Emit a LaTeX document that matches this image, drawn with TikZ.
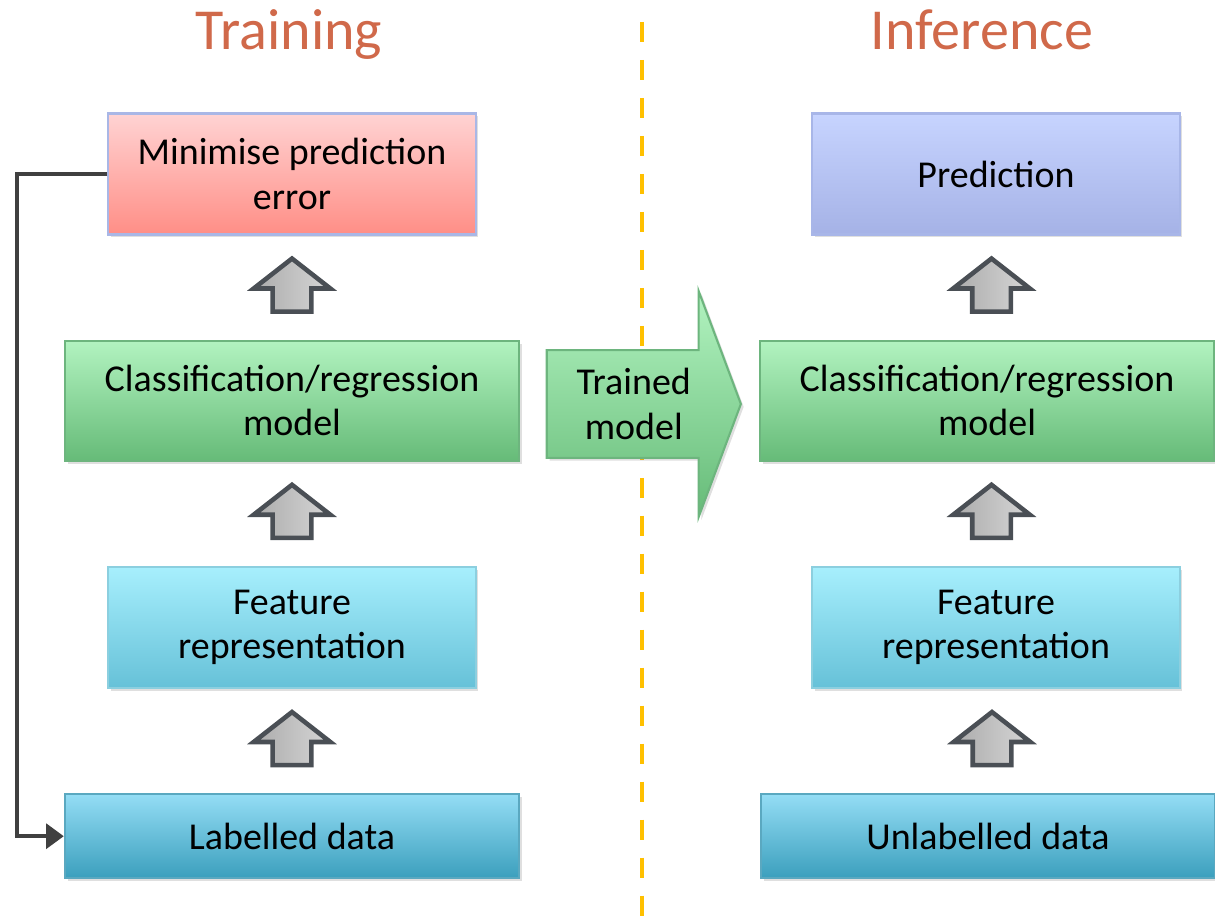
\documentclass[tikz,border=0pt]{standalone}
\usepackage{fontspec}
\setmainfont{Carlito}
\usepackage{xcolor}
\usetikzlibrary{shapes.arrows, arrows.meta, positioning, calc, shadows}

\definecolor{titlecol}{HTML}{D0694A}
\definecolor{errtop}{HTML}{FFD3D3}
\definecolor{errbot}{HTML}{FF8E86}
\definecolor{errline}{HTML}{A9B7E6}
\definecolor{grntop}{HTML}{B2F3C0}
\definecolor{grnbot}{HTML}{66BB78}
\definecolor{grnline}{HTML}{6DB57E}
\definecolor{cyantop}{HTML}{A7EFFD}
\definecolor{cyanbot}{HTML}{66C1D8}
\definecolor{cyanline}{HTML}{8CCFDF}
\definecolor{labtop}{HTML}{94DDF5}
\definecolor{labbot}{HTML}{3B9FBD}
\definecolor{labline}{HTML}{5AA8C0}
\definecolor{predtop}{HTML}{C7D4FF}
\definecolor{predbot}{HTML}{A5B2E6}
\definecolor{predline}{HTML}{A8B6E8}
\definecolor{arrline}{HTML}{4A4F55}
\definecolor{arrtop}{HTML}{D6D6D6}
\definecolor{arrbot}{HTML}{ABABAB}
\definecolor{fbline}{HTML}{404040}
\definecolor{dashcol}{HTML}{FFC000}

\tikzset{
  box/.style={rectangle, draw, line width=0.6pt, align=center,
    font=\fontsize{10.8}{12.6}\selectfont,
    drop shadow={opacity=0.25, shadow xshift=0.8pt, shadow yshift=-0.8pt}},
  narrow/.style={box, minimum width=3.67cm, minimum height=1.21cm},
  wide/.style={box, minimum width=4.54cm, minimum height=1.2cm},
  flat/.style={box, minimum width=4.54cm, minimum height=0.84cm},
  errbox/.style={draw=errline, top color=errtop, bottom color=errbot},
  grnbox/.style={draw=grnline, top color=grntop, bottom color=grnbot},
  cyanbox/.style={draw=cyanline, top color=cyantop, bottom color=cyanbot},
  labbox/.style={draw=labline, top color=labtop, bottom color=labbot},
  predbox/.style={draw=predline, top color=predtop, bottom color=predbot},
  uparr/.style={single arrow, rotate=90, draw=arrline, line width=1.3pt,
    left color=arrbot, right color=arrtop, inner xsep=0pt, inner ysep=0.17cm,
    minimum height=0.53cm,
    single arrow head extend=0.19cm, single arrow tip angle=104},
  bigarr/.style={single arrow, draw=grnline, line width=0.6pt,
    top color=grntop, bottom color=grnbot, align=center,
    font=\fontsize{10.8}{12.6}\selectfont,
    minimum height=1.94cm, minimum width=2.26cm,
    single arrow head extend=0.53cm, single arrow tip angle=139,
    drop shadow={opacity=0.25, shadow xshift=0.8pt, shadow yshift=-0.8pt}},
  title/.style={text=titlecol, font=\fontsize{16.5}{19}\selectfont},
  fb/.style={draw=fbline, line width=1.1pt, -{Triangle[length=5pt,width=7pt]}},
  dashline/.style={draw=dashcol, line width=1.4pt, dash pattern=on 5.7pt off 5.1pt}
}

\begin{document}
\begin{tikzpicture}[x=0.01cm, y=-0.01cm]
\useasboundingbox (0,0) rectangle (1215,922);

% divider
\draw[dashline] (642,22) -- (642,922);

% titles
\node[title, anchor=base] (ttrain) at (289,50) {Training};
\node[title, anchor=base] (tinfer) at (982,50) {Inference};

% training column
\node[narrow, errbox] (err) at (292,174) {Minimise prediction\\error};
\node[wide, grnbox] (clfA) [below=1.04cm of err] {Classification/regression\\model};
\node[narrow, cyanbox] (featA) [below=1.04cm of clfA] {Feature\\representation};
\node[flat, labbox] (lab) [below=1.04cm of featA] {Labelled data};

\node[uparr] (upA1) at ($(err.south)!0.5!(clfA.north)+(0,5)$) {};
\node[uparr] (upA2) at ($(clfA.south)!0.5!(featA.north)+(0,5)$) {};
\node[uparr] (upA3) at ($(featA.south)!0.5!(lab.north)+(0,5)$) {};

\draw[fb] (err.west) -- ++(-90,0) |- (lab.west);

% inference column
\node[narrow, predbox] (pred) at (996,174) {Prediction};
\node[wide, grnbox] (clfB) [below=1.04cm of pred, xshift=-0.09cm] {Classification/regression\\model};
\node[narrow, cyanbox] (featB) [below=1.04cm of clfB, xshift=0.09cm] {Feature\\representation};
\node[flat, labbox] (unlab) [below=1.04cm of featB, xshift=-0.08cm] {Unlabelled data};

\node[uparr] (upB1) at ($(pred.south)!0.5!(clfB.north)+(0,5)$) {};
\node[uparr] (upB2) at ($(clfB.south)!0.5!(featB.north)+(0,5)$) {};
\node[uparr] (upB3) at ($(featB.south)!0.5!(unlab.north)+(0,5)$) {};

% hand-over
\node[bigarr, anchor=tip] (trained) at (742,404) {Trained\\model};
\end{tikzpicture}
\end{document}
